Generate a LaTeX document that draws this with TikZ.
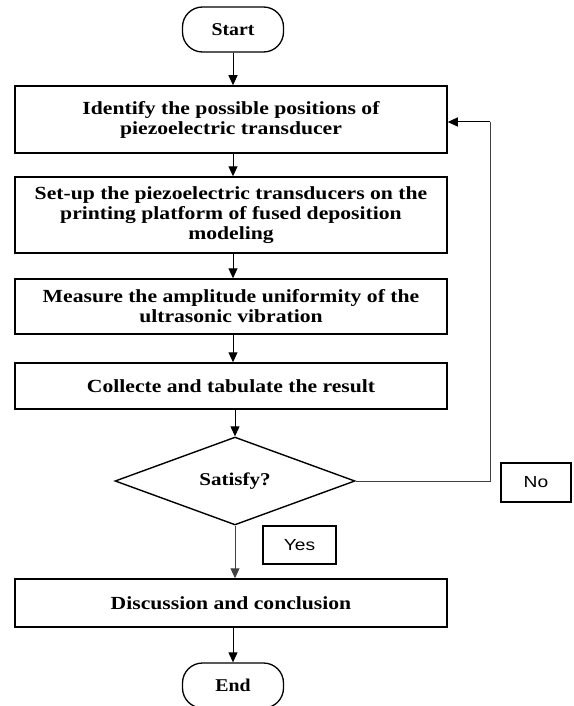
\documentclass[tikz,border=0pt]{standalone}
\usepackage{fontspec}
\setmainfont{Liberation Serif}[FakeStretch=1.17]
\newfontfamily\termfont{Liberation Serif}[FakeStretch=1.1]
\newfontfamily\labelfont{Liberation Sans}[FakeStretch=1.2]
\usetikzlibrary{shapes.geometric,arrows.meta}
\begin{document}
\begin{tikzpicture}[x=1pt,y=-1pt,
  stepbox/.style={draw=black,line width=1.5pt,minimum width=432pt,inner sep=2pt,align=center,
     font=\fontsize{18.5}{20}\selectfont\bfseries},
  term/.style={draw=black,line width=1.3pt,rounded corners=20pt,minimum width=101pt,minimum height=45pt,
     font=\termfont\fontsize{18}{20}\selectfont\bfseries},
  decide/.style={draw=black,line width=1.4pt,diamond,minimum width=240pt,minimum height=74pt,inner sep=0pt,
     font=\fontsize{18}{20}\selectfont\bfseries},
  tag/.style={draw=black,line width=1.4pt,inner sep=0pt,font=\labelfont\fontsize{16}{19}\selectfont},
  flow/.style={draw=black,line width=1pt,-{Triangle[width=9pt,length=10pt]}},
  back/.style={draw=black!75,line width=1pt}]
\useasboundingbox (0,0) rectangle (573,706);
\clip (0,0) rectangle (573,706);
\node[term] (start) at (233,29.5) {Start};
\node[stepbox,minimum height=67pt] (b1) at (231,119.5) {Identify the possible positions of\\piezoelectric transducer};
\node[stepbox,minimum height=76pt] (b2) at (231,215) {Set-up the piezoelectric transducers on the\\printing platform of fused deposition\\modeling};
\node[stepbox,minimum height=55pt] (b3) at (231,306.5) {Measure the amplitude uniformity of the\\ultrasonic vibration};
\node[stepbox,minimum height=46pt] (b4) at (231,386) {Collecte and tabulate the result};
\node[decide] (sat) at (235,481) {Satisfy?};
\node[stepbox,minimum height=48pt] (b5) at (231,603) {Discussion and conclusion};
\node[term] (end) at (233,685.5) {End};
\node[tag,minimum width=73pt,minimum height=38pt] (yes) at (299.5,545) {Yes};
\node[tag,minimum width=70pt,minimum height=39pt] (no) at (536,482.5) {No};
\coordinate (c1) at (490,481);
\coordinate (c2) at (490,122);
\draw[flow] (start.south) -- (start.south |- b1.north);
\draw[flow] (b1.south -| start.south) -- (start.south |- b2.north);
\draw[flow] (b2.south -| start.south) -- (start.south |- b3.north);
\draw[flow] (b3.south -| start.south) -- (start.south |- b4.north);
\draw[flow] (b4.south -| sat.north) -- (sat.north);
\draw[flow,draw=black!75] (sat.south) -- (sat.south |- b5.north);
\draw[flow] (b5.south -| end.north) -- (end.north);
\draw[back] (sat.east) -- (c1) -- (c2);
\draw[flow] (c2) -- (b1.east |- c2);
\end{tikzpicture}
\end{document}
